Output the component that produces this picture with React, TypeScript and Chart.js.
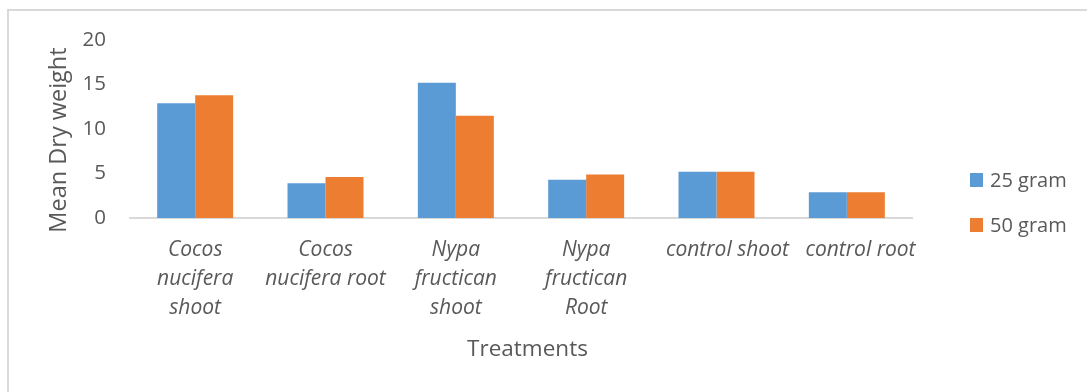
import React, { useEffect, useRef } from "react";
import { Chart, registerables } from "chart.js";

Chart.register(...registerables);

// Treatment groups on the x axis (multi-line labels; the single-line
// control labels sit slightly right of their group centre)
const categories: (string | string[])[] = [
  ["Cocos", "nucifera", "shoot"],
  ["Cocos", "nucifera root"],
  ["Nypa", "fructican", "shoot"],
  ["Nypa", "fructican", "Root"],
  "    control shoot",
  "     control root",
];

// Mean dry weight per treatment
const gram25 = [12.9, 3.9, 15.2, 4.3, 5.2, 2.9];
const gram50 = [13.8, 4.6, 11.5, 4.9, 5.2, 2.9];

const seriesLabels = ["25 gram", "50 gram"];
const seriesColors = ["#5B9BD5", "#ED7D31"];

const yMin = 0;
const yMax = 20;
const yStep = 5;

const yTitle = "Mean Dry weight";
const xTitle = "Treatments";

const FONT = "'Open Sans', sans-serif";
const TEXT = "#595959";

// Axis titles and a vertical legend on the right side
const chartDecor = {
  id: "chartDecor",
  afterDraw(chart: Chart) {
    const { ctx } = chart;
    ctx.save();

    // y-axis title, rotated
    ctx.fillStyle = TEXT;
    ctx.font = `23.5px ${FONT}`;
    ctx.textAlign = "center";
    ctx.textBaseline = "alphabetic";
    ctx.save();
    ctx.translate(66, 140);
    ctx.rotate(-Math.PI / 2);
    ctx.fillText(yTitle, 0, 0);
    ctx.restore();

    // x-axis title
    ctx.font = `22.5px ${FONT}`;
    ctx.fillText(xTitle, 527.5, 356);

    // legend
    const x = 970;
    const startY = 180;
    const gap = 45;
    ctx.font = `20px ${FONT}`;
    ctx.textBaseline = "middle";
    ctx.textAlign = "left";
    chart.data.datasets.forEach((ds, i) => {
      const cy = startY + i * gap;
      ctx.fillStyle = ds.backgroundColor as string;
      ctx.fillRect(x, cy - 7, 13, 14);
      ctx.fillStyle = TEXT;
      ctx.fillText(String(ds.label), x + 20, cy + 1);
    });
    ctx.restore();
  },
};

export default function App() {
  const canvasRef = useRef<HTMLCanvasElement | null>(null);

  useEffect(() => {
    if (!canvasRef.current) return;
    const chart = new Chart(canvasRef.current, {
      type: "bar",
      data: {
        labels: categories,
        datasets: [
          {
            label: seriesLabels[0],
            data: gram25,
            backgroundColor: seriesColors[0],
            borderWidth: 0,
          },
          {
            label: seriesLabels[1],
            data: gram50,
            backgroundColor: seriesColors[1],
            borderWidth: 0,
          },
        ],
      },
      options: {
        responsive: false,
        animation: false,
        layout: { padding: { left: 10, top: 40, right: 175, bottom: 10 } },
        datasets: {
          bar: { categoryPercentage: 0.583, barPercentage: 1 },
        },
        plugins: {
          legend: { display: false },
          tooltip: { enabled: false },
        },
        scales: {
          x: {
            grid: { display: false, drawTicks: false },
            border: { display: true, color: "#d9d9d9", width: 2 },
            ticks: {
              color: TEXT,
              padding: 17.5,
              maxRotation: 0,
              autoSkip: false,
              font: { family: FONT, size: 21, style: "italic", lineHeight: 1.38 },
            },
            afterFit(scale: any) {
              scale.height = 164;
            },
          },
          y: {
            min: yMin,
            max: yMax,
            grid: { display: false, drawTicks: false },
            border: { display: false },
            ticks: {
              stepSize: yStep,
              color: TEXT,
              padding: 24,
              font: { family: FONT, size: 20.5 },
            },
            afterFit(scale: any) {
              scale.width = 120;
            },
          },
        },
      },
      plugins: [chartDecor],
    });
    return () => chart.destroy();
  }, []);

  return (
    <div style={{ position: "fixed", left: 0, top: 0, width: 1087, height: 392, background: "#fff", overflow: "hidden" }}>
      <div
        style={{
          position: "absolute",
          left: 7,
          top: 9,
          width: 1200,
          height: 500,
          borderTop: "2px solid #d9d9d9",
          borderLeft: "2px solid #d9d9d9",
        }}
      />
      <canvas
        ref={canvasRef}
        width={1087}
        height={392}
        style={{ position: "absolute", left: 0, top: 0, display: "block" }}
      />
    </div>
  );
}
